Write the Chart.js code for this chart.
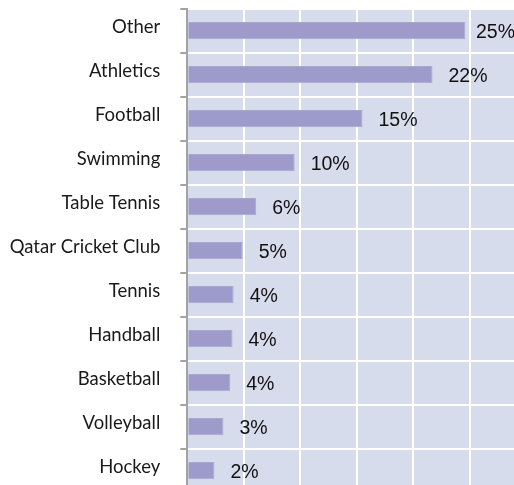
<!DOCTYPE html>
<html><head><meta charset="utf-8">
<script src="https://cdn.jsdelivr.net/npm/chart.js@4/dist/chart.umd.min.js"></script>
<style>html,body{margin:0;padding:0;overflow:hidden;background:#fff;width:514px;height:485px}canvas{display:block}</style>
</head><body>
<canvas id="c" width="530" height="500"></canvas>
<script>
const categories = ["Other","Athletics","Football","Swimming","Table Tennis","Qatar Cricket Club","Tennis","Handball","Basketball","Volleyball","Hockey"];
const values = [24.6,21.7,15.5,9.5,6.1,4.9,4.1,4.0,3.8,3.2,2.4];
const valueLabels = ["25%","22%","15%","10%","6%","5%","4%","4%","4%","3%","2%"];
const xTicks = [0,5,10,15,20,25,30];

const bgPlugin = {
  id:'bg',
  beforeDraw(chart){
    const {ctx, chartArea:a} = chart;
    ctx.save(); ctx.fillStyle = '#d7dcec';
    ctx.fillRect(a.left, a.top, a.right-a.left, a.bottom-a.top);
    ctx.restore();
  }
};
const labelPlugin = {
  id:'vl',
  afterDatasetsDraw(chart){
    const {ctx} = chart;
    const meta = chart.getDatasetMeta(0);
    ctx.save();
    ctx.font = '19.5px "Liberation Sans", Arial, sans-serif';
    ctx.fillStyle = '#111';
    ctx.textBaseline = 'middle';
    meta.data.forEach((bar,i)=>{
      const t = valueLabels[i];
      const w = ctx.measureText(t).width;
      let x = bar.x + 16;
      if (x + w > 515) x = 515 - w;
      ctx.fillText(t, x, bar.y + 1.5);
    });
    ctx.restore();
  }
};

new Chart(document.getElementById('c'), {
  type:'bar',
  data:{labels:categories, datasets:[{data:values, backgroundColor:'#9e9bca', borderColor:'#a9a6d2', borderWidth:1, barPercentage:0.78, categoryPercentage:0.5}]},
  options:{
    indexAxis:'y', responsive:false, animation:false,
    layout:{padding:{left:0,top:8.7,right:3.7,bottom:7.3}},
    plugins:{legend:{display:false}, tooltip:{enabled:false}},
    scales:{
      x:{min:0,max:30,
         afterBuildTicks(s){ s.ticks = xTicks.map(v=>({value:v})); },
         afterFit(s){ s.height = 0; s.paddingLeft = 0; s.paddingRight = 0; },
         ticks:{display:false}, border:{display:false},
         grid:{color:'#ffffff', lineWidth:2, drawTicks:false}},
      y:{
         afterFit(s){ s.width = 187.3; s.paddingTop = 0; s.paddingBottom = 0; },
         border:{display:true, color:'#a3a3a3', width:2},
         grid:{color:'#ffffff', lineWidth:2, tickColor:'#a3a3a3', tickLength:7, offset:true},
         ticks:{padding:20, labelOffset:-4, color:'#1a1a1a', font:{family:'Lato', size:18.5}}
      }
    }
  },
  plugins:[bgPlugin,labelPlugin]
});
</script>
</body></html>
